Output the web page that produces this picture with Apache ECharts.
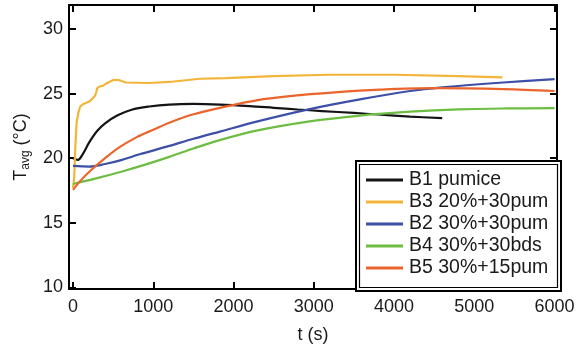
<!DOCTYPE html>
<html>
<head>
<meta charset="utf-8">
<script src="https://cdn.jsdelivr.net/npm/echarts@6/dist/echarts.min.js"></script>
<style>
html,body{margin:0;padding:0;background:#fff;}
#chart{width:587px;height:353px;}
</style>
</head>
<body>
<div id="chart"></div>
<script>
// ---- data ----
const seriesNames = ['B1 pumice', 'B3 20%+30pum', 'B2 30%+30pum', 'B4 30%+30bds', 'B5 30%+15pum'];
const seriesColors = ['#141414', '#F2B53A', '#3D4FA6', '#6CBD42', '#EA642B'];

const b1Time = [0, 60, 120, 200, 300, 400, 550, 730, 950, 1200, 1500, 1830, 2200, 2500, 2800, 3100, 3500, 3800, 4200, 4600];
const b1Temp = [20.0, 19.87, 20.3, 21.2, 22.1, 22.7, 23.3, 23.75, 24.0, 24.15, 24.2, 24.15, 24.03, 23.9, 23.77, 23.65, 23.5, 23.38, 23.22, 23.1];

const b3Time = [0, 15, 30, 45, 70, 90, 130, 210, 270, 290, 300, 330, 370, 420, 500, 560, 660, 950, 1200, 1580, 1900, 2500, 3200, 4000, 4800, 5350];
const b3Temp = [17.7, 18.5, 21.0, 22.8, 23.6, 24.0, 24.2, 24.4, 24.8, 25.1, 25.4, 25.55, 25.6, 25.8, 26.05, 26.07, 25.86, 25.82, 25.9, 26.15, 26.2, 26.35, 26.46, 26.46, 26.35, 26.25];

const b2Time = [0, 200, 400, 600, 830, 1200, 1500, 1830, 2300, 2950, 3575, 4200, 4600, 5360, 6000];
const b2Temp = [19.4, 19.35, 19.55, 19.85, 20.3, 20.95, 21.5, 22.06, 22.85, 23.8, 24.55, 25.2, 25.48, 25.86, 26.12];

const b4Time = [0, 300, 600, 900, 1200, 1500, 1830, 2300, 2950, 3575, 4200, 4800, 5400, 6000];
const b4Temp = [18.0, 18.45, 18.95, 19.5, 20.1, 20.75, 21.4, 22.15, 22.85, 23.3, 23.6, 23.78, 23.85, 23.87];

const b5Time = [0, 100, 230, 400, 580, 800, 1000, 1200, 1500, 1830, 2300, 2700, 3260, 3820, 4500, 5360, 6000];
const b5Temp = [17.55, 18.3, 19.1, 20.0, 20.85, 21.65, 22.2, 22.75, 23.4, 23.9, 24.5, 24.8, 25.09, 25.3, 25.42, 25.35, 25.2];

const xTicks = [0, 1000, 2000, 3000, 4000, 5000, 6000];
const yTicks = [10, 15, 20, 25, 30];

// ---- build ----
const zip = (t, v) => t.map((x, i) => [x, v[i]]);
const seriesData = [zip(b1Time, b1Temp), zip(b3Time, b3Temp), zip(b2Time, b2Temp), zip(b4Time, b4Temp), zip(b5Time, b5Temp)];

const FONT = '"Liberation Sans", Arial, Helvetica, sans-serif';
const X_MIN = -50, X_MAX = 6030, Y_MIN = 9.87, Y_MAX = 31.86;
const plain = v => String(v);

function xAxisCfg(pos) {
  return {
    type: 'value', position: pos, min: X_MIN, max: X_MAX,
    axisLine: { show: true, onZero: false, lineStyle: { color: '#000', width: 2 } },
    axisTick: { show: true, inside: true, length: 7, customValues: xTicks, lineStyle: { color: '#000', width: 2 } },
    axisLabel: pos === 'bottom'
      ? { show: true, customValues: xTicks, formatter: plain, margin: 9, fontSize: 18, color: '#1a1a1a', fontFamily: FONT }
      : { show: false },
    splitLine: { show: false },
    name: pos === 'bottom' ? 't (s)' : '',
    nameLocation: 'middle', nameGap: 37,
    nameTextStyle: { fontSize: 18, color: '#1a1a1a', fontFamily: FONT }
  };
}
function yAxisCfg(pos) {
  return {
    type: 'value', position: pos, min: Y_MIN, max: Y_MAX,
    axisLine: { show: true, onZero: false, lineStyle: { color: '#000', width: 2 } },
    axisTick: { show: true, inside: true, length: 7, customValues: yTicks, lineStyle: { color: '#000', width: 2 } },
    axisLabel: pos === 'left'
      ? { show: true, customValues: yTicks, formatter: plain, margin: 6, fontSize: 18, color: '#1a1a1a', fontFamily: FONT }
      : { show: false },
    splitLine: { show: false },
    name: pos === 'left' ? '{a|T}{s|avg}{a| (°C)}' : '',
    nameLocation: 'middle', nameGap: 27,
    nameTextStyle: {
      color: '#1a1a1a', fontFamily: FONT,
      rich: {
        a: { fontSize: 18, lineHeight: 22, fontFamily: FONT, color: '#1a1a1a' },
        s: { fontSize: 12, lineHeight: 12, verticalAlign: 'bottom', fontFamily: FONT, color: '#1a1a1a' }
      }
    }
  };
}

const chart = echarts.init(document.getElementById('chart'), null, { renderer: 'canvas' });
chart.setOption({
  animation: false,
  backgroundColor: '#fff',
  grid: { left: 69, right: 30, top: 5, bottom: 64, containLabel: false },
  xAxis: [xAxisCfg('bottom'), xAxisCfg('top')],
  yAxis: [yAxisCfg('left'), yAxisCfg('right')],
  legend: {
    orient: 'vertical', left: 357, top: 162, z: 20,
    padding: [7, 9, 9, 9],
    itemWidth: 37, itemHeight: 3, itemGap: 0,
    icon: 'rect',
    textStyle: { fontSize: 19.5, lineHeight: 22, color: '#1a1a1a', fontFamily: FONT, padding: [0, 0, 0, 1] },
    data: seriesNames
  },
  graphic: [
    { type: 'rect', z: 10, shape: { x: 356, y: 161, width: 205, height: 130 }, style: { fill: '#fff', stroke: '#000', lineWidth: 2 } },
    { type: 'rect', z: 11, shape: { x: 359.5, y: 164.5, width: 198, height: 123 }, style: { fill: 'none', stroke: '#000', lineWidth: 1.2 } }
  ],
  series: seriesNames.map((n, i) => ({
    name: n, type: 'line', data: seriesData[i],
    xAxisIndex: 0, yAxisIndex: 0,
    showSymbol: false, smooth: i === 1 ? false : 0.35,
    lineStyle: { width: 2.2, color: seriesColors[i] },
    itemStyle: { color: seriesColors[i] },
    z: 2
  }))
});
</script>
</body>
</html>
